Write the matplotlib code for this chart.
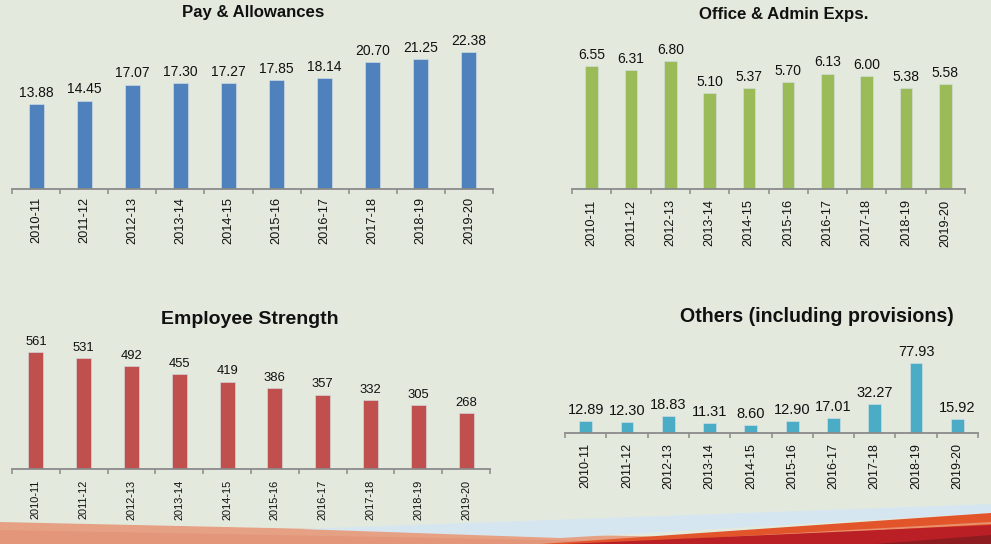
import matplotlib
matplotlib.use("Agg")
import matplotlib.pyplot as plt
from matplotlib.patches import Polygon

plt.rcParams['font.family'] = ['Liberation Sans', 'DejaVu Sans']

years = ["2010-11", "2011-12", "2012-13", "2013-14", "2014-15",
         "2015-16", "2016-17", "2017-18", "2018-19", "2019-20"]
pay_allowances = [13.88, 14.45, 17.07, 17.30, 17.27, 17.85, 18.14, 20.70, 21.25, 22.38]
office_admin = [6.55, 6.31, 6.80, 5.10, 5.37, 5.70, 6.13, 6.00, 5.38, 5.58]
employee_strength = [561, 531, 492, 455, 419, 386, 357, 332, 305, 268]
others = [12.89, 12.30, 18.83, 11.31, 8.60, 12.90, 17.01, 32.27, 77.93, 15.92]

BG = "#e4e9de"
W, H = 991, 544
fig = plt.figure(figsize=(W / 100, H / 100), dpi=100, facecolor=BG)


def px_axes(x0, x1, ytop, ybase):
    return fig.add_axes([x0 / W, (H - ybase) / H, (x1 - x0) / W, (ybase - ytop) / H])


def bar_panel(ax, values, color, ymax, width, vfs, tfs, tpad, vfmt, voff):
    ax.set_facecolor("none")
    x = list(range(len(values)))
    ax.bar(x, values, width=width, color=color, edgecolor="#d8e2e8", linewidth=0.4, zorder=2)
    ax.set_xlim(-0.5, len(values) - 0.5)
    ax.set_ylim(0, ymax)
    for s in ["top", "right", "left"]:
        ax.spines[s].set_visible(False)
    ax.spines["bottom"].set_color("#8a8a8a")
    ax.spines["bottom"].set_linewidth(1.3)
    ax.set_yticks([])
    ax.set_xticks(x)
    ax.set_xticklabels(years, rotation=90, fontsize=tfs, color="#111111")
    ax.tick_params(axis="x", which="major", length=0, pad=tpad)
    ax.set_xticks([i - 0.5 for i in range(len(values) + 1)], minor=True)
    ax.tick_params(axis="x", which="minor", length=3.5, width=1.1, color="#8a8a8a", direction="out")
    for xi, v in zip(x, values):
        ax.annotate(vfmt.format(v), (xi, v), xytext=(0, voff), textcoords="offset points",
                    ha="center", va="bottom", fontsize=vfs, color="#111111")


# Top-left: Pay & Allowances
ax1 = px_axes(12, 493, 30, 189)
bar_panel(ax1, pay_allowances, "#4f81bd", 22.38 * 159 / 137, 0.31, 10, 9.2, 5.5, "{:.2f}", 3)
fig.text(253 / W, 1 - 13 / H, "Pay & Allowances", ha="center", va="center",
         fontsize=12.1, fontweight="bold", color="#111111")

# Top-right: Office & Admin Exps.
ax2 = px_axes(572, 965, 30, 189)
bar_panel(ax2, office_admin, "#9bbb59", 6.80 * 159 / 128, 0.32, 10, 9.2, 7.5, "{:.2f}", 3)
fig.text(784 / W, 1 - 15 / H, "Office & Admin Exps.", ha="center", va="center",
         fontsize=12.1, fontweight="bold", color="#111111")

# Bottom-left: Employee Strength
ax3 = px_axes(12, 490, 340, 469)
bar_panel(ax3, employee_strength, "#c0504d", 561 * 129 / 117, 0.31, 9.4, 7.9, 7.5, "{:d}", 3)
fig.text(250 / W, 1 - 320 / H, "Employee Strength", ha="center", va="center",
         fontsize=14, fontweight="bold", color="#111111")

# Bottom-right: Others (including provisions)
ax4 = px_axes(565, 978, 340, 433)
bar_panel(ax4, others, "#4bacc6", 77.93 * 93 / 70, 0.31, 10.5, 9, 7, "{:.2f}", 3)
fig.text(817 / W, 1 - 317 / H, "Others (including provisions)", ha="center", va="center",
         fontsize=14.1, fontweight="bold", color="#111111")


# Decorative bottom strip
def strip(points, color):
    pts = [(x / W, 1 - y / H) for x, y in points]
    fig.patches.append(Polygon(pts, closed=True, transform=fig.transFigure,
                               facecolor=color, edgecolor="none", zorder=0))


strip([(0, 522), (991, 544), (0, 544)], "#e6a184")
strip([(0, 530), (991, 548), (0, 548)], "#e3967a")
strip([(300, 529), (991, 504), (991, 513), (560, 538)], "#d6e6f0")
strip([(541, 544), (991, 513), (991, 544)], "#e2552a")
strip([(600, 544), (991, 522), (991, 524), (600, 546)], "#e9906c")
strip([(520, 546), (991, 525), (991, 546)], "#ba1f26")
strip([(850, 546), (991, 535), (991, 546)], "#8c1c20")

fig.savefig("out.png", dpi=100, facecolor=BG)
